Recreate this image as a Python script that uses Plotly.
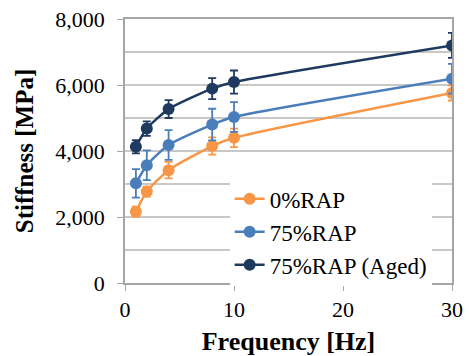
import plotly.graph_objects as go

freq = [1, 2, 4, 8, 10, 30]
rap0 = [2160, 2770, 3420, 4150, 4400, 5760]
rap0_err = [150, 150, 250, 260, 280, 230]
rap75 = [3020, 3570, 4180, 4800, 5030, 6190]
rap75_err = [430, 450, 450, 480, 450, 450]
rap75aged = [4130, 4680, 5270, 5890, 6090, 7200]
rap75aged_err = [200, 220, 270, 320, 350, 380]

names = ["0%RAP", "75%RAP", "75%RAP (Aged)"]
colors = ["#F79646", "#4A7EBB", "#1F3A5F"]

fig = go.Figure()
for name, y, e, c in zip(names, [rap0, rap75, rap75aged],
                         [rap0_err, rap75_err, rap75aged_err], colors):
    fig.add_trace(go.Scatter(
        x=freq, y=y, name=name, mode="lines+markers",
        line=dict(color=c, width=2.5, shape="spline", smoothing=0.6),
        marker=dict(color=c, size=12),
        error_y=dict(type="data", array=e, visible=True, color=c,
                     thickness=1.8, width=4),
    ))

font = "Times New Roman, Liberation Serif, serif"
tickfont = dict(family=font, size=22, color="black")
fig.update_layout(
    width=469, height=356,
    margin=dict(l=125, r=17, t=19, b=73, autoexpand=False),
    paper_bgcolor="white", plot_bgcolor="white",
    font=dict(family=font, size=22, color="black"),
    showlegend=True,
    legend=dict(x=0.32, y=0.40, xanchor="left", yanchor="top",
                bgcolor="white", font=dict(size=23, family=font, color="black"),
                tracegroupgap=0),
    xaxis=dict(range=[0, 30], tickvals=[0, 10, 20, 30], showgrid=False,
               tickfont=tickfont, automargin=False,
               showline=True, linecolor="#A6A6A6", linewidth=1.5, mirror=True,
               ticks="outside", ticklen=6, tickcolor="#A6A6A6",
               zeroline=False,
               title=dict(text="<b>Frequency [Hz]</b>", font=dict(size=26, family=font),
                          standoff=15)),
    yaxis=dict(range=[0, 8000], tickvals=[0, 2000, 4000, 6000, 8000],
               ticktext=["0", "2,000", "4,000", "6,000", "8,000"],
               tickfont=tickfont, ticklabelstandoff=8, automargin=False,
               showgrid=True, gridcolor="#C8C8C8", gridwidth=1.5,
               minor=dict(dtick=1000, showgrid=True, gridcolor="#C8C8C8", gridwidth=1.5),
               showline=True, linecolor="#A6A6A6", linewidth=1.5, mirror=True,
               ticks="outside", ticklen=6, tickcolor="#A6A6A6",
               zeroline=False,
               title=dict(text="<b>Stiffness [MPa]</b>", font=dict(size=25, family=font),
                          standoff=15)),
)

fig.write_html("out.html")
